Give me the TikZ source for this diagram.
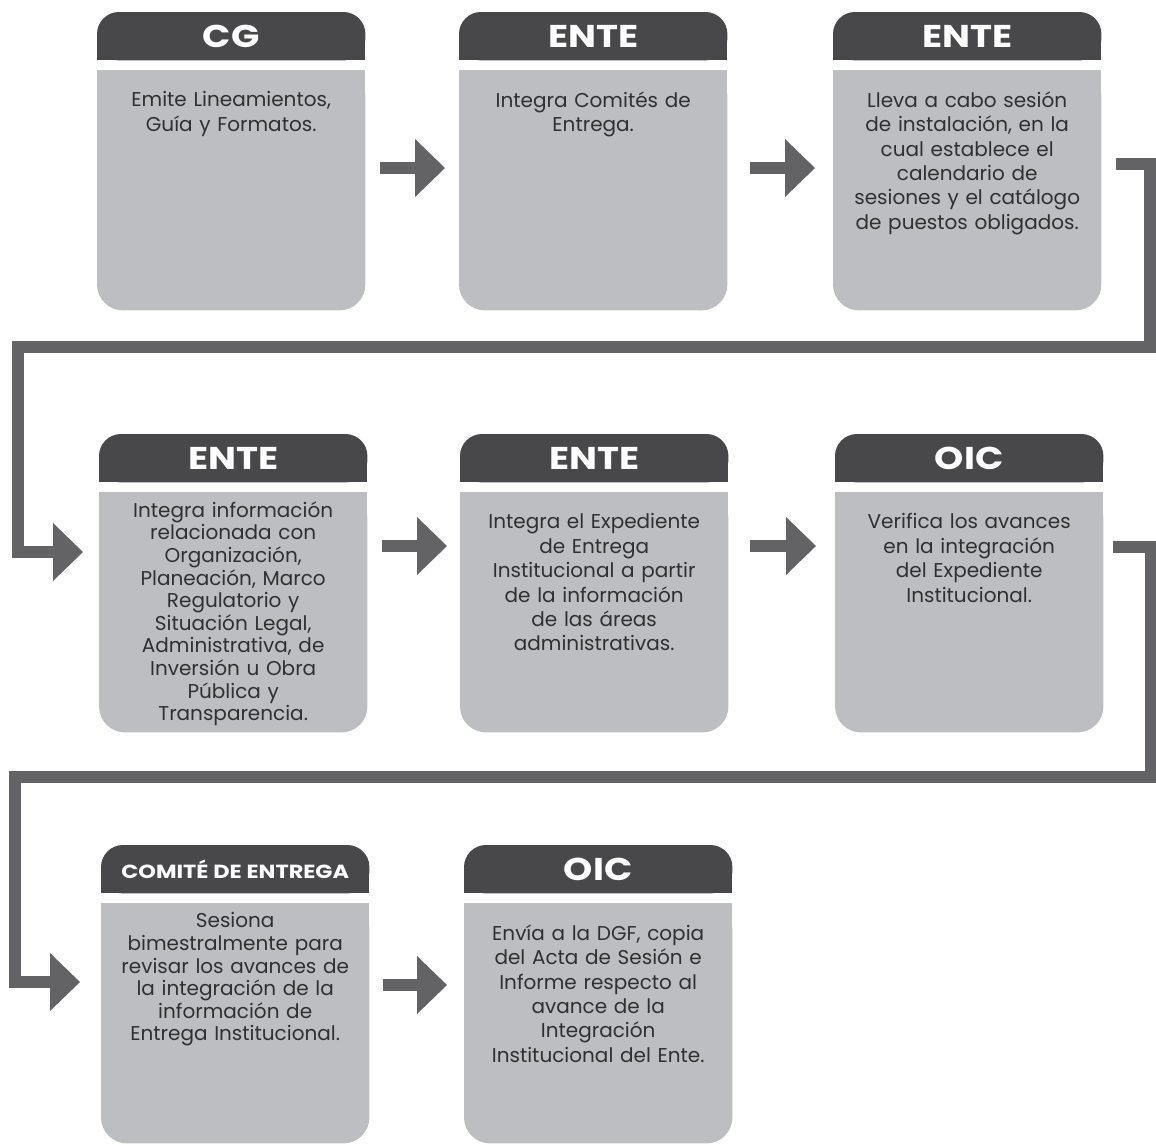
\documentclass[tikz,border=0pt]{standalone}
\usepackage{fontspec}
\setmainfont{Poppins}
\usepackage{tikz}
\usetikzlibrary{positioning,arrows.meta,backgrounds}

\definecolor{cabezagris}{HTML}{48484A}
\definecolor{cuerpogris}{HTML}{BDBEC1}
\definecolor{flechagris}{HTML}{636366}
\definecolor{textogris}{HTML}{303030}

\tikzset{
  cabeza/.style={anchor=north west, minimum width=268pt, minimum height=48pt, inner sep=0pt,
    text=white, font=\bfseries\addfontfeature{FakeStretch=1.18}\fontsize{31.5pt}{32pt}\selectfont},
  cuerpo/.style={anchor=north, text width=262pt, align=center, inner sep=0pt,
    text=textogris, font=\fontsize{20pt}{24.4pt}\selectfont},
  denso/.style={font=\fontsize{20pt}{22.6pt}\selectfont, yshift=12pt},
  flecha/.style={draw=flechagris, line width=12pt, line join=miter,
    -{Triangle[length=30pt,width=58pt,line width=0pt]}}
}

\newcommand{\paso}[6]{%
  \node[cabeza] (t#1) at (#2,#3) {#4};
  \begin{scope}[on background layer]
    \fill[cabezagris, rounded corners=22pt] (t#1.north west) rectangle (t#1.south east);
    \fill[cabezagris] ([yshift=22pt]t#1.south west) rectangle (t#1.south east);
    \fill[cuerpogris, rounded corners=26pt] ([yshift=-10pt]t#1.south west) rectangle ([yshift=-250pt]t#1.south east);
    \fill[cuerpogris] ([yshift=-10pt]t#1.south west) rectangle ([yshift=-60pt]t#1.south east);
  \end{scope}
  \node[cuerpo, below=31pt of t#1.south, #5] (b#1) {#6};
}

\begin{document}
\begin{tikzpicture}[x=1pt, y=-1pt]
\begin{scope}[on background layer]
\fill[white] (0,0) rectangle (1156,1144);
\end{scope}
\useasboundingbox (0,0) rectangle (1156,1144);

\paso{1}{97}{12}{CG}{}{Emite Lineamientos,\\ Guía y Formatos.}
\paso{2}{459}{12}{ENTE}{}{Integra Comités de\\ Entrega.}
\paso{3}{833}{12}{ENTE}{}{Lleva a cabo sesión\\ de instalación, en la\\ cual establece el\\ calendario de\\ sesiones y el catálogo\\ de puestos obligados.}
\paso{4}{99}{434}{ENTE}{denso}{Integra información\\ relacionada con\\ Organización,\\ Planeación, Marco\\ Regulatorio y\\ Situación Legal,\\ Administrativa, de\\ Inversión u Obra\\ Pública y\\ Transparencia.}
\paso{5}{460}{434}{ENTE}{}{Integra el Expediente\\ de Entrega\\ Institucional a partir\\ de la información\\ de las áreas\\ administrativas.}
\paso{6}{835}{434}{OIC}{}{Verifica los avances\\ en la integración\\ del Expediente\\ Institucional.}
\paso{7}{101}{845}{\fontsize{19pt}{20pt}\selectfont COMITÉ DE ENTREGA}{denso}{Sesiona\\ bimestralmente para\\ revisar los avances de\\ la integración de la\\ información de\\ Entrega Institucional.}
\paso{8}{464}{845}{OIC}{}{Envía a la DGF, copia\\ del Acta de Sesión e\\ Informe respecto al\\ avance de la\\ Integración\\ Institucional del Ente.}

\draw[flecha] ([xshift=15pt]t1.east |- 0,168) -- ([xshift=-14pt]t2.west |- 0,168);
\draw[flecha] ([xshift=23pt]t2.east |- 0,168) -- ([xshift=-18pt]t3.west |- 0,168);
\draw[flecha] ([xshift=15pt]t4.east |- 0,546) -- ([xshift=-13pt]t5.west |- 0,546);
\draw[flecha] ([xshift=22pt]t5.east |- 0,546) -- ([xshift=-19pt]t6.west |- 0,546);
\draw[flecha] ([xshift=14pt]t7.east |- 0,985) -- ([xshift=-17pt]t8.west |- 0,985);

\draw[flecha] ([xshift=15pt]t3.east |- 0,164) -| (1150,347) -| (18,552) -- ([xshift=-16pt]t4.west |- 0,552);
\draw[flecha] ([xshift=10pt]t6.east |- 0,547) -| (1151,777) -| (15,982) -- ([xshift=-21pt]t7.west |- 0,982);
\end{tikzpicture}
\end{document}
